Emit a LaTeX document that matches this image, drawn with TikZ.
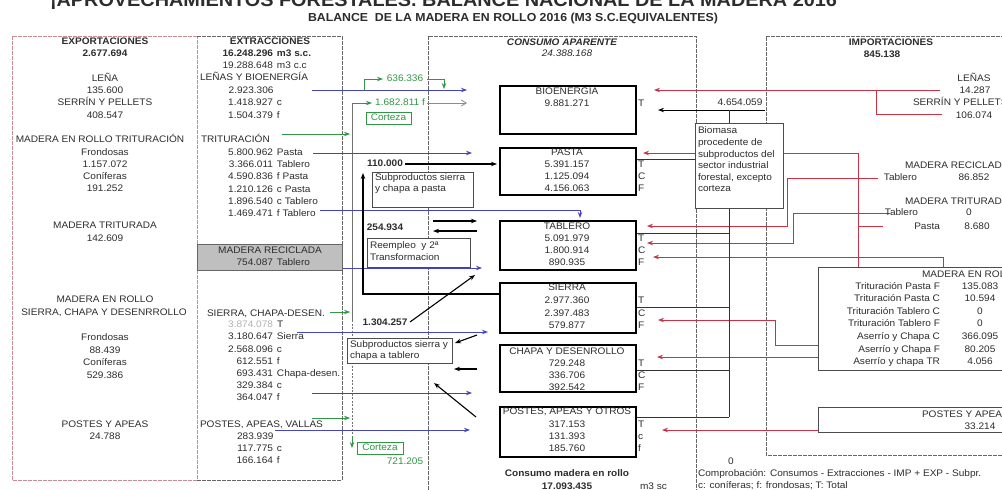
\documentclass[tikz,border=0pt]{standalone}
\usepackage{fontspec}
\setmainfont[FakeStretch=1.06]{Liberation Sans}
\usetikzlibrary{arrows.meta}
\definecolor{bluec}{RGB}{70,70,185}
\definecolor{redc}{RGB}{200,50,70}
\definecolor{greenc}{RGB}{50,150,70}
\definecolor{pinkc}{RGB}{200,140,150}
\definecolor{txtc}{RGB}{45,45,45}
\begin{document}
\begin{tikzpicture}[x=1pt,y=-1pt,
  every node/.style={inner sep=0pt, outer sep=0pt, text=txtc},
  font=\fontsize{9.5}{11}\selectfont,
  tx/.style={anchor=mid},
  tl/.style={anchor=mid west},
  tr/.style={anchor=mid east},
  frame/.style={draw=black!60, dash pattern=on 4pt off 1pt, line width=0.8pt},
  pframe/.style={draw=pinkc, dash pattern=on 4pt off 1pt, line width=0.9pt},
  cbox/.style={draw=black, line width=2pt, fill=white, anchor=north west},
  note/.style={draw=black!70, line width=0.6pt, fill=white, anchor=north west},
  rbox/.style={draw=black!70, line width=0.7pt, fill=white, anchor=north west},
  tipk/.style={-{Stealth[length=6pt,width=4.5pt]}},
  blu/.style={draw=bluec, line width=0.9pt, tipk},
  rd/.style={draw=redc, line width=0.9pt, tipk},
  rl/.style={draw=redc, line width=0.9pt},
  gr/.style={draw=greenc, line width=0.9pt},
  gra/.style={draw=greenc, line width=0.9pt, tipk},
  blk/.style={draw=black, line width=1.1pt, tipk},
  bl/.style={draw=black!80, line width=0.9pt},
  gtxt/.style={text=greenc}
]
\useasboundingbox (0,0) rectangle (1002,490);
\fill[white] (0,0) rectangle (1002,490);

% ---------- titles
\node[anchor=base west] (title) at (50,6) {\resizebox{787pt}{!}{\bfseries ¡APROVECHAMIENTOS FORESTALES. BALANCE NACIONAL DE LA MADERA 2016}};
\node[anchor=base west] (subtitle) at (308,21) {\resizebox{410pt}{!}{\bfseries BALANCE\ \ DE LA MADERA EN ROLLO 2016 (M3 S.C.EQUIVALENTES)}};

% ---------- frames
\draw[pframe] (197,36) -- (12,36) -- (12,480) -- (197,480) -- cycle;
\draw[frame] (197,36) -- (342,36) -- (342,480) -- (197,480);
\draw[frame] (428,490) -- (428,36) -- (696,36) -- (696,490);
\draw[frame] (1010,36) -- (766,36) -- (766,455) -- (1010,455);

% ---------- red import lines
\draw[rd] (940,90) -- (654,90);
\draw[rl] (876,90) -- (876,114) -- (942,114);
\draw[rd] (858,267) -- (858,153) -- (643,153);
\draw[rl] (858,226) -- (883,226);
\draw[rd] (878,178) -- (787,178) -- (787,226) -- (647,226);
\draw[rd] (890,213) -- (793,213) -- (793,243) -- (647,243);
\draw[rd] (943,267) -- (943,257) -- (653,257);
\draw[rd] (818,345) -- (775,345) -- (775,320) -- (658,320);
\draw[rd] (818,357) -- (657,357);
\draw[rd] (818,430) -- (662,430);

% ---------- biomasa collector
\draw[blk, line width=0.9pt] (765,110) -- (658,110);
\draw[bl] (729,110) -- (729,123);
\draw[bl] (729,208) -- (729,417);
\draw[bl] (636,159) -- (695,159);
\draw[bl] (636,233) -- (729,233);
\draw[bl] (636,307) -- (729,307);
\draw[bl] (636,370) -- (729,370);
\draw[bl] (636,417) -- (729,417);

% ---------- green / gray corteza
\draw[draw=black!55, line width=0.9pt] (352,103) -- (352,320);
\draw[draw=black!55, line width=0.9pt, dash pattern=on 2pt off 1.5pt] (352,320) -- (352,438);
\draw[gra] (352,436) -- (352,448);
\draw[gra] (352,103) -- (372,103);
\draw[draw=black!45, line width=0.8pt, -{Straight Barb[length=5pt,width=6pt]}] (427,103) -- (467,103);
\draw[gra] (282,134) -- (350,134);
\draw[gra] (330,312) -- (350,312);
\draw[gra] (312,418) -- (350,418);

% ---------- blue flows
\draw[blu] (312,90) -- (467,90);
\draw[gr] (364,90) -- (364,79);
\draw[gra] (364,79) -- (383,79);
\draw[gra] (427,79) -- (444,79) -- (444,89);
\draw[blu] (313,153) -- (472,153);
\draw[blu] (320,210) -- (580,210) -- (580,218);
\draw[blu] (320,268) -- (482,268);
\draw[blu] (297,332) -- (488,332);
\draw[blu] (312,393) -- (472,393);
\draw[blu] (275,430) -- (470,430);

% ---------- black flows
\draw[blk] (405,164) -- (497,164);
\draw[blk] (500,294) -- (363,294) -- (363,173);
\draw[blk] (433,221) -- (477,221);
\draw[blk] (477,231) -- (433,231);
\draw[blk] (410,322) -- (475,275);
\draw[blk] (477,335) -- (455,343);
\draw[blk] (477,369) -- (454,369);
\draw[blk] (476,417) -- (434,383);

% ---------- boxes
\node[draw=black!60, fill=black!25, minimum width=145pt, minimum height=26pt, anchor=north west] (mrec) at (197,244) {};
\node[cbox, minimum width=136pt, minimum height=48pt] (bio) at (500,86) {};
\node[cbox, minimum width=136pt, minimum height=47pt] (pasta) at (500,148) {};
\node[cbox, minimum width=136pt, minimum height=49pt] (tab) at (500,221) {};
\node[cbox, minimum width=136pt, minimum height=50pt] (sie) at (500,283) {};
\node[cbox, minimum width=136pt, minimum height=47pt] (cha) at (500,345) {};
\node[cbox, minimum width=136pt, minimum height=50pt] (pos) at (500,407) {};
\node[note, minimum width=88pt, minimum height=85pt] (biom) at (695,123) {};
\node[note, minimum width=101pt, minimum height=35pt] (sub1) at (372,172) {};
\node[note, minimum width=103pt, minimum height=29pt] (reem) at (367,238) {};
\node[note, minimum width=105pt, minimum height=25pt] (sub2) at (347,338) {};
\node[draw=greenc, line width=0.7pt, fill=white, anchor=north west, minimum width=45pt, minimum height=12pt] (cort1) at (366,112) {};
\node[draw=greenc, line width=0.7pt, fill=white, anchor=north west, minimum width=46pt, minimum height=12pt] (cort2) at (357,442) {};
\node[rbox, minimum width=200pt, minimum height=103pt] (mroll) at (818,267) {};
\node[rbox, minimum width=200pt, minimum height=25pt] (mpost) at (818,407) {};

% ---------- EXPORTACIONES texts
\node[tx] (x1) at (105,42) {\bfseries EXPORTACIONES};
\node[tx] (x2) at (105,54) {\bfseries 2.677.694};
\node[tx] (x3) at (105,79) {LEÑA};
\node[tx] (x4) at (105,91) {135.600};
\node[tx] (x5) at (105,103) {SERRÍN Y PELLETS};
\node[tx] (x6) at (105,116) {408.547};
\node[tx] (x7) at (100,140) {MADERA EN ROLLO TRITURACIÓN};
\node[tx] (x8) at (105,153) {Frondosas};
\node[tx] (x9) at (105,165) {1.157.072};
\node[tx] (x10) at (105,177) {Coníferas};
\node[tx] (x11) at (105,189) {191.252};
\node[tx] (x12) at (105,226) {MADERA TRITURADA};
\node[tx] (x13) at (105,239) {142.609};
\node[tx] (x14) at (105,300) {MADERA EN ROLLO};
\node[tx] (x15) at (104,313) {SIERRA, CHAPA Y DESENRROLLO};
\node[tx] (x16) at (105,338) {Frondosas};
\node[tx] (x17) at (105,351) {88.439};
\node[tx] (x18) at (105,363) {Coníferas};
\node[tx] (x19) at (105,376) {529.386};
\node[tx] (x20) at (105,425) {POSTES Y APEAS};
\node[tx] (x21) at (105,437) {24.788};

% ---------- EXTRACCIONES texts
\node[tx] (e1) at (270,42) {\bfseries EXTRACCIONES};
\node[tl] (e2) at (273,54) {\bfseries\llap{16.248.296}\hspace{4pt}m3 s.c.};
\node[tl] (e3) at (273,66) {\llap{19.288.648}\hspace{4pt}m3 c.c};
\node[tl] (e4) at (200,78) {LEÑAS Y BIOENERGÍA};
\node[tl] (e5) at (273,91) {\llap{2.923.306}};
\node[tl] (e6) at (273,103) {\llap{1.418.927}\hspace{4pt}c};
\node[tl] (e7) at (273,116) {\llap{1.504.379}\hspace{4pt}f};
\node[tl] (e8) at (201,140) {TRITURACIÓN};
\node[tl] (e9) at (273,153) {\llap{5.800.962}\hspace{4pt}Pasta};
\node[tl] (e10) at (273,165) {\llap{3.366.011}\hspace{4pt}Tablero};
\node[tl] (e11) at (273,177) {\llap{4.590.836}\hspace{4pt}f Pasta};
\node[tl] (e12) at (273,190) {\llap{1.210.126}\hspace{4pt}c Pasta};
\node[tl] (e13) at (273,202) {\llap{1.896.540}\hspace{4pt}c Tablero};
\node[tl] (e14) at (273,214) {\llap{1.469.471}\hspace{4pt}f Tablero};
\node[tx] (e15) at (270,251) {MADERA RECICLADA};
\node[tl] (e16) at (273,263) {\llap{754.087}\hspace{4pt}Tablero};
\node[tl] (e17) at (207,314) {SIERRA, CHAPA-DESEN.};
\node[tl] (e18) at (273,325) {\llap{\color{black!30}3.874.078}\hspace{4pt}T};
\node[tl] (e19) at (273,337) {\llap{3.180.647}\hspace{4pt}Sierra};
\node[tl] (e20) at (273,350) {\llap{2.568.096}\hspace{4pt}c};
\node[tl] (e21) at (273,362) {\llap{612.551}\hspace{4pt}f};
\node[tl] (e22) at (273,374) {\llap{693.431}\hspace{4pt}Chapa-desen.};
\node[tl] (e23) at (273,386) {\llap{329.384}\hspace{4pt}c};
\node[tl] (e24) at (273,398) {\llap{364.047}\hspace{4pt}f};
\node[tl] (e25) at (200,425) {POSTES, APEAS, VALLAS};
\node[tl] (e26) at (273,437) {\llap{283.939}};
\node[tl] (e27) at (273,449) {\llap{117.775}\hspace{4pt}c};
\node[tl] (e28) at (273,461) {\llap{166.164}\hspace{4pt}f};

% ---------- middle labels
\node[tx, gtxt] (g1) at (405,79) {636.336};
\node[tx, gtxt] (g2) at (400,103) {1.682.811 f};
\node[tx, gtxt] at (cort1.center) (g3) {Corteza};
\node[tx, gtxt] at (cort2.center) (g4) {Corteza};
\node[tx, gtxt] (g5) at (405,462) {721.205};
\node[tx] (k1) at (385,164) {\bfseries 110.000};
\node[tx] (k2) at (385,228) {\bfseries 254.934};
\node[tx] (k3) at (385,323) {\bfseries 1.304.257};
\node[tl] (s1a) at (375,178) {Subproductos sierra};
\node[tl] (s1b) at (375,189) {y chapa a pasta};
\node[tl] (r1a) at (370,246) {Reempleo\ \ y 2ª};
\node[tl] (r1b) at (370,258) {Transformacion};
\node[tl] (s2a) at (350,345) {Subproductos sierra y};
\node[tl] (s2b) at (350,356) {chapa a tablero};

% ---------- CONSUMO texts
\node[tx] (ca1) at (562,43) {\bfseries\itshape CONSUMO APARENTE};
\node[tx] (ca2) at (567,54) {\itshape 24.388.168};
\node[tx] (b1) at (567,92) {BIOENERGIA};
\node[tx] (b2) at (567,104) {9.881.271};
\node[tl] (b3) at (638,104) {T};
\node[tx] (p1) at (567,153) {PASTA};
\node[tx] (p2) at (567,165) {5.391.157};
\node[tx] (p3) at (567,177) {1.125.094};
\node[tx] (p4) at (567,189) {4.156.063};
\node[tl] (p5) at (638,165) {T};
\node[tl] (p6) at (638,177) {C};
\node[tl] (p7) at (638,189) {F};
\node[tx] (t1) at (567,227) {TABLERO};
\node[tx] (t2) at (567,239) {5.091.979};
\node[tx] (t3) at (567,251) {1.800.914};
\node[tx] (t4) at (567,263) {890.935};
\node[tl] (t5) at (638,239) {T};
\node[tl] (t6) at (638,251) {C};
\node[tl] (t7) at (638,263) {F};
\node[tx] (si1) at (567,288) {SIERRA};
\node[tx] (si2) at (567,301) {2.977.360};
\node[tx] (si3) at (567,314) {2.397.483};
\node[tx] (si4) at (567,326) {579.877};
\node[tl] (si5) at (638,301) {T};
\node[tl] (si6) at (638,314) {C};
\node[tl] (si7) at (638,326) {F};
\node[tx] (c1) at (567,352) {CHAPA Y DESENROLLO};
\node[tx] (c2) at (567,364) {729.248};
\node[tx] (c3) at (567,376) {336.706};
\node[tx] (c4) at (567,388) {392.542};
\node[tl] (c5) at (638,364) {T};
\node[tl] (c6) at (638,376) {C};
\node[tl] (c7) at (638,388) {F};
\node[tx] (po1) at (567,412) {POSTES, APEAS Y OTROS};
\node[tx] (po2) at (567,425) {317.153};
\node[tx] (po3) at (567,437) {131.393};
\node[tx] (po4) at (567,449) {185.760};
\node[tl] (po5) at (638,425) {T};
\node[tl] (po6) at (638,437) {c};
\node[tl] (po7) at (638,449) {f};
\node[tx] (cm1) at (567,474) {\bfseries Consumo madera en rollo};
\node[tx] (cm2) at (567,487) {\bfseries 17.093.435};
\node[tl] (cm3) at (640,487) {m3 sc};

% ---------- biomasa
\node[tx] (bm0) at (740,103) {4.654.059};
\node[tl] (bm1) at (698,131) {Biomasa};
\node[tl] (bm2) at (698,143) {procedente de};
\node[tl] (bm3) at (698,155) {subproductos del};
\node[tl] (bm4) at (698,166) {sector industrial};
\node[tl] (bm5) at (698,178) {forestal, excepto};
\node[tl] (bm6) at (698,189) {corteza};
\node[tx] (z0) at (731,462) {0};
\node[tl] (z1) at (698,474) {Comprobación: Consumos - Extracciones - IMP + EXP - Subpr.};
\node[tl] (z2) at (698,486) {c: coníferas; f: frondosas; T: Total};

% ---------- IMPORTACIONES texts
\node[tx] (i1) at (891,43) {\bfseries IMPORTACIONES};
\node[tx] (i2) at (882,55) {\bfseries 845.138};
\node[tx] (i3) at (974,79) {LEÑAS};
\node[tx] (i4) at (975,91) {14.287};
\node[tl] (i5) at (913,103) {SERRÍN Y PELLETS};
\node[tx] (i6) at (974,116) {106.074};
\node[tl] (i7) at (905,166) {MADERA RECICLADA};
\node[tr] (i8) at (917,178) {Tablero};
\node[tx] (i9) at (974,178) {86.852};
\node[tl] (i10) at (905,202) {MADERA TRITURADA};
\node[tr] (i11) at (918,213) {Tablero};
\node[tx] (i12) at (969,213) {0};
\node[tr] (i13) at (940,227) {Pasta};
\node[tx] (i14) at (977,227) {8.680};
\node[tl] (m0) at (922,275) {MADERA EN ROLLO};
\node[tr] (m1) at (940,287) {Trituración Pasta F};
\node[tx] (v1) at (980,287) {135.083};
\node[tr] (m2) at (940,299) {Trituración Pasta C};
\node[tx] (v2) at (980,299) {10.594};
\node[tr] (m3) at (940,312) {Trituración Tablero C};
\node[tx] (v3) at (980,312) {0};
\node[tr] (m4) at (940,324) {Trituración Tablero F};
\node[tx] (v4) at (980,324) {0};
\node[tr] (m5) at (940,337) {Aserrío y Chapa C};
\node[tx] (v5) at (980,337) {366.095};
\node[tr] (m6) at (940,350) {Aserrío y Chapa F};
\node[tx] (v6) at (980,350) {80.205};
\node[tr] (m7) at (940,362) {Aserrío y chapa TR};
\node[tx] (v7) at (980,362) {4.056};
\node[tl] (q1) at (922,415) {POSTES Y APEAS};
\node[tx] (q2) at (980,427) {33.214};
\end{tikzpicture}
\end{document}
